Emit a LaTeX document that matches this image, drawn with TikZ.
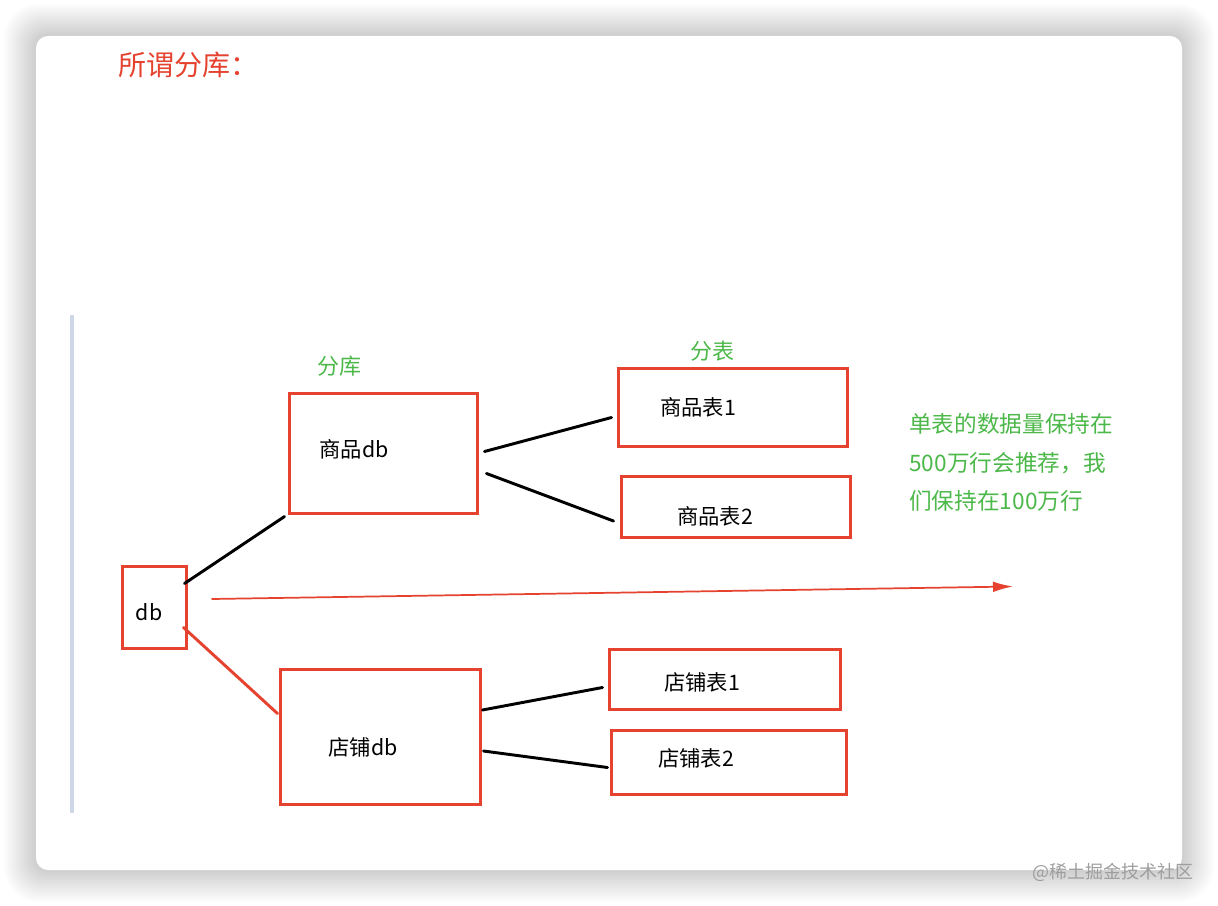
\documentclass[tikz,border=0pt]{standalone}
\usepackage{fontspec}
\setmainfont{Noto Sans CJK SC}
\usetikzlibrary{arrows.meta}

\definecolor{boxred}{HTML}{E5432F}
\definecolor{notegreen}{HTML}{4DB84A}
\definecolor{guideblue}{HTML}{CFD6E8}

\tikzset{
    tbox/.style={draw=boxred, line width=2.4pt, minimum width=#1, inner sep=0pt, outer sep=0pt},
    boxtxt/.style={font=\fontsize{16}{19}\selectfont, inner sep=0pt},
    tag/.style={font=\fontsize{16.5}{19}\selectfont, text=notegreen, inner sep=0pt},
    link/.style={line width=2.2pt, line cap=round}
}

\begin{document}
\begin{tikzpicture}[x=0.75pt,y=-0.75pt,>=Latex]

\useasboundingbox (0,0) rectangle (1218,906);
\fill[white] (0,0) rectangle (1218,906);

% Card shadow
\foreach \i in {1,...,16}{
    \fill[black,opacity=0.011,rounded corners=10+\i]
        (36-2*\i,36-2*\i) rectangle (1182+2*\i,870+2*\i);
}
\fill[white,rounded corners=9] (36,36) rectangle (1182,870);

% Guide line
\draw[guideblue,line width=2.4pt] (72,315) -- (72,813);

% Title
\node[anchor=west, inner sep=0pt, text=boxred,
      font=\fontsize{21}{25}\selectfont] (title) at (118,65) {所谓分库：};

% Boxes
\foreach \name/\cx/\cy/\w/\h in {
    db/154.5/607.5/64/82,
    spdb/383.5/453.5/188/120,
    dpdb/380.5/737/200/135,
    spa/733/407.5/229/78,
    spb/736/507/229/61,
    dpa/725/679.5/231/60,
    dpb/729/762.5/235/64}{
    \node[tbox=\w*0.75pt, minimum height=\h*0.75pt] (\name) at (\cx,\cy) {};
}

% Box texts
\node[boxtxt] (dbtxt)   at (149,612) {db};
\node[boxtxt] (spdbtxt) at (354,449) {商品db};
\node[boxtxt] (dpdbtxt) at (363,747) {店铺db};
\node[boxtxt] (spatxt)  at (698,407) {商品表1};
\node[boxtxt] (spbtxt)  at (715,516) {商品表2};
\node[boxtxt] (dpatxt)  at (702,682) {店铺表1};
\node[boxtxt] (dpbtxt)  at (696,758) {店铺表2};

% Green labels
\node[tag] (kulbl)  at (339,366) {分库};
\node[tag] (biaolbl) at (712,351) {分表};
\node[tag, anchor=north west, align=left,
      font=\fontsize{17}{29}\selectfont] (note) at (909,413)
    {单表的数据量保持在\\500万行会推荐，我\\们保持在100万行};

% Links
\draw[link] ([shift={(-2,17)}]db.north east) -- ([shift={(-5,3)}]spdb.south west);
\draw[link,boxred] ([shift={(-3,-21)}]db.south east) -- ([shift={(-3,44)}]dpdb.north west);
\draw[link] ([shift={(7,-2)}]spdb.east) -- ([shift={(-7,10)}]spa.west);
\draw[link] ([shift={(9,20)}]spdb.east) -- ([shift={(-8,14)}]spb.west);
\draw[link] ([shift={(2,-27)}]dpdb.east) -- ([shift={(-7,8)}]dpa.west);
\draw[link] ([shift={(3,14)}]dpdb.east) -- ([shift={(-4,5)}]dpb.west);

% Long arrow
\coordinate (arrowend) at (1013,586.5);
\draw[->,boxred,line width=1.3pt,>={Latex[length=15pt,width=8pt]}]
    ([shift={(25,-8.5)}]db.east) -- (arrowend);

% Watermark
\node[anchor=east, inner sep=0pt, text=black!38,
      font=\fontsize{13.5}{16}\selectfont] (mark) at (1194,872) {@稀土掘金技术社区};

\end{tikzpicture}
\end{document}
